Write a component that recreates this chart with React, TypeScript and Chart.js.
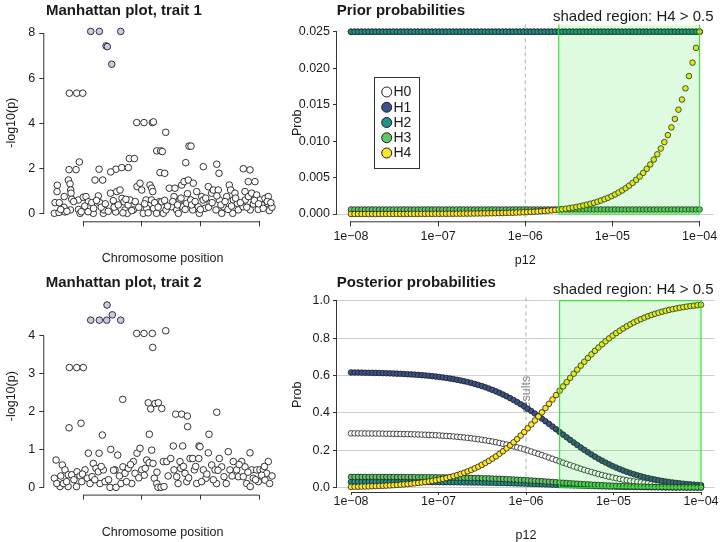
import React, { useEffect, useRef } from "react";
import { Chart, registerables } from "chart.js";

Chart.register(...registerables);

const FONT = "'Liberation Sans', Arial, Helvetica, sans-serif";
Chart.defaults.font.family = FONT;

// ---------------- Manhattan plot data ----------------
const chromTicks = [100, 200, 300, 400];
const trait1YTicks = [0, 2, 4, 6, 8];
const trait2YTicks = [0, 1, 2, 3, 4];

// trait 1: lead SNPs (highlighted)
const t1LeadPos = [113.1, 127.8, 164.2, 139.2, 141.4, 148.9];
const t1LeadLogP = [8.07, 8.07, 8.07, 7.43, 7.4, 6.62];

// trait 1: other SNPs
const t1Pos = [
  76.7, 89.3, 99.5, 191.5, 203.9, 218.1, 219.8, 240.9, 280.6, 284.0,
  225.6, 232.4, 235.1, 178.9, 187.4, 275.0, 93.7, 327.8, 305.0, 76.2,
  88.1, 127.3, 156.2, 165.9, 177.2, 147.2, 231.2, 239.2, 331.7, 75.0,
  77.9, 120.4, 133.5, 56.2, 79.0, 79.6, 373.1, 384.5, 381.6, 393.0,
  51.1, 55.7, 52.3, 59.6, 59.1, 67.6, 67.9, 69.3, 78.6, 80.7,
  92.0, 92.3, 94.9, 100.5, 105.1, 109.0, 110.7, 114.8, 117.5, 108.6,
  126.1, 128.3, 134.6, 135.8, 146.8, 151.6, 157.4, 163.0, 166.4, 155.7,
  169.8, 171.5, 175.5, 176.8, 180.1, 185.7, 191.9, 197.1, 200.0, 202.7,
  207.3, 208.5, 214.1, 217.0, 218.7, 216.6, 220.3, 225.2, 230.0, 234.1,
  236.8, 241.4, 247.0, 251.1, 255.0, 256.7, 259.6, 262.4, 265.2, 268.1,
  269.8, 272.1, 276.7, 279.4, 283.5, 286.9, 287.9, 293.7, 296.4, 298.1,
  302.2, 304.6, 307.8, 313.5, 316.4, 319.2, 322.0, 326.6, 330.5, 332.2,
  336.3, 339.0, 344.8, 349.2, 351.6, 355.0, 356.1, 358.9, 362.9, 364.6,
  376.0, 376.4, 382.0, 387.4, 395.9, 401.5, 410.1, 415.7, 412.9, 372.7,
  390.1, 404.4, 417.4, 384.9, 398.6, 422.0,
  62.0, 72.5, 84.0, 97.0, 103.0, 118.0, 123.0, 131.0, 138.0, 143.0,
  153.0, 160.0, 168.0, 173.0, 183.0, 189.0, 195.0, 205.0, 211.0, 222.0,
  228.0, 239.0, 244.0, 253.0, 261.0, 267.0, 274.0, 278.0, 285.0, 291.0,
  300.0, 309.0, 314.0, 320.0, 328.0, 335.0, 342.0, 347.0, 353.0, 360.0,
  368.0, 379.0, 392.0, 399.0, 407.0, 414.0, 420.0,
];
const t1LogP = [
  5.34, 5.34, 5.34, 4.04, 4.04, 4.04, 4.07, 3.61, 3.0, 3.0,
  2.79, 2.79, 2.76, 2.45, 2.45, 2.27, 2.3, 2.2, 2.09, 1.96,
  1.96, 1.98, 1.98, 2.05, 2.05, 1.86, 1.83, 1.8, 1.8, 1.5,
  1.33, 1.5, 1.5, 1.27, 1.06, 0.92, 2.0, 1.95, 1.43, 1.43,
  0.03, 0.99, 0.5, 0.5, 0.07, 0.3, 0.77, 0.09, 0.18, 0.65,
  0.62, 0.2, 0.03, 0.74, 0.77, 0.54, 0.32, 0.5, 0.03, 0.1,
  0.8, 0.5, 0.03, 0.18, 0.92, 0.59, 0.99, 1.06, 0.69, 0.09,
  0.54, 0.18, 0.03, 0.4, 0.62, 0.18, 1.21, 1.36, 1.06, 0.03,
  0.62, 0.25, 1.28, 1.14, 0.99, 0.62, 0.25, 0.03, 0.54, 0.54,
  0.03, 0.18, 1.14, 0.32, 0.77, 1.14, 0.18, 0.03, 0.62, 1.28,
  0.32, 1.43, 0.47, 1.5, 0.62, 0.18, 1.36, 0.99, 0.32, 0.03,
  0.77, 0.62, 0.25, 1.21, 0.47, 0.92, 1.06, 0.18, 1.06, 0.62,
  0.03, 0.32, 0.77, 1.28, 1.06, 0.03, 0.62, 0.92, 0.47, 0.18,
  0.99, 0.62, 0.77, 0.92, 0.84, 0.62, 0.69, 0.77, 0.47, 0.32,
  0.44, 0.4, 0.15, 0.18, 0.2, 0.3,
  0.2, 0.12, 0.55, 0.1, 0.35, 0.25, 0.6, 0.3, 0.45, 0.12,
  0.3, 0.4, 0.05, 0.65, 0.15, 0.55, 0.3, 0.45, 0.05, 0.5,
  0.3, 0.6, 0.35, 0.55, 0.4, 0.7, 0.2, 0.9, 0.4, 0.55,
  0.2, 0.7, 0.3, 0.5, 0.8, 0.4, 0.55, 0.2, 0.35, 0.7,
  0.5, 0.3, 0.6, 0.45, 0.25, 0.55, 0.5,
];

// trait 2: lead SNPs (highlighted)
const t2LeadPos = [113.1, 127.8, 140.4, 164.2, 149.9, 140.9];
const t2LeadLogP = [4.41, 4.41, 4.41, 4.41, 4.55, 4.81];

// trait 2: other SNPs
const t2Pos = [
  191.5, 203.9, 218.1, 240.9, 218.7, 76.7, 89.3, 100.5, 167.6, 211.2,
  222.7, 228.3, 215.3, 234.1, 257.9, 268.1, 277.7, 278.2, 327.8, 76.2,
  96.6, 132.9, 213.0, 314.6, 109.0, 127.3, 147.2, 159.1, 54.0, 64.7,
  69.3, 75.0, 80.7, 89.8, 94.9, 103.4, 107.3, 111.9, 117.5, 122.1,
  126.1, 129.0, 134.6, 146.0, 154.5, 156.2, 164.7, 168.0, 171.5, 177.2,
  183.0, 185.7, 188.6, 191.9, 197.1, 200.0, 204.3, 208.5, 212.6, 217.0,
  219.2, 221.5, 225.6, 227.8, 232.9, 238.0, 236.8, 242.6, 249.4, 253.8,
  255.0, 259.6, 265.2, 266.4, 269.8, 273.8, 276.7, 282.3, 286.9, 289.6,
  293.7, 297.6, 299.3, 297.2, 305.0, 309.5, 313.5, 319.2, 324.9, 327.4,
  332.2, 336.3, 340.2, 347.5, 350.4, 356.1, 361.8, 364.6, 74.6, 60.8,
  51.1, 55.2, 88.8, 97.8, 66.4, 137.5,
  384.5, 370.4, 376.0, 387.4, 395.9, 401.5, 407.2, 415.7, 412.9, 404.4,
  390.1, 378.9, 384.9, 398.6, 410.1, 373.1, 422.0,
  62.0, 72.0, 84.5, 99.0, 115.5, 120.0, 131.0, 143.5, 152.0, 162.0,
  174.0, 181.0, 195.0, 206.0, 226.0, 245.0, 262.0, 271.0, 280.0, 292.0,
  302.0, 311.0, 322.0, 330.0, 344.0, 354.0, 366.0, 381.0, 394.0, 409.0, 418.0,
];
const t2LogP = [
  4.06, 4.06, 4.06, 4.13, 3.69, 3.16, 3.16, 3.16, 2.32, 2.23,
  2.21, 2.23, 2.07, 2.08, 1.93, 1.93, 1.88, 1.6, 1.98, 1.57,
  1.69, 1.38, 1.4, 1.4, 0.9, 0.9, 1.0, 0.85, 0.72, 0.59,
  0.46, 0.33, 0.33, 0.41, 0.3, 0.46, 0.24, 0.1, 0.63, 0.5,
  0.41, 0.1, 0.46, 0.0, 0.46, 0.0, 0.1, 0.54, 0.37, 0.5,
  0.1, 0.68, 0.37, 0.9, 1.03, 0.46, 0.32, 0.72, 0.65, 0.98,
  0.63, 0.24, 0.1, 0.0, 0.0, 0.02, 0.68, 0.68, 0.76, 1.09,
  0.46, 0.28, 0.68, 0.5, 1.09, 0.37, 0.15, 0.76, 0.76, 0.46,
  0.1, 1.09, 1.07, 0.76, 0.46, 0.24, 0.91, 0.59, 0.46, 0.1,
  0.76, 0.54, 0.28, 0.94, 0.46, 0.68, 0.46, 0.28, 0.02, 0.02,
  0.24, 0.1, 0.02, 0.15, 0.1, 0.15,
  0.91, 0.68, 0.54, 0.46, 0.46, 0.46, 0.46, 0.68, 0.37, 0.32,
  0.24, 0.1, 0.02, 0.15, 0.19, 0.28, 0.3,
  0.3, 0.15, 0.2, 0.35, 0.28, 0.2, 0.55, 0.2, 0.45, 0.3,
  0.15, 0.6, 0.25, 0.5, 0.4, 0.3, 0.1, 0.55, 0.25, 0.55,
  0.15, 0.35, 0.2, 0.45, 0.1, 0.3, 0.6, 0.4, 0.2, 0.55, 0.1,
];

// ---------------- Prior / posterior data ----------------
const p12Ticks = [1e-8, 1e-7, 1e-6, 1e-5, 1e-4];
const p12TickLabels = ["1e\u221208", "1e\u221207", "1e\u221206", "1e\u221205", "1e\u221204"];
const priorYTicks = [0, 0.005, 0.01, 0.015, 0.02, 0.025];
const postYTicks = [0, 0.2, 0.4, 0.6, 0.8, 1.0];
const hypotheses = ["H0", "H1", "H2", "H3", "H4"];
const resultsP12 = 1e-6;

const p12 = [
  1.0e-8, 1.098e-8, 1.205e-8, 1.322e-8, 1.451e-8, 1.592e-8, 1.748e-8, 1.918e-8, 2.105e-8, 2.31e-8,
  2.535e-8, 2.783e-8, 3.054e-8, 3.352e-8, 3.678e-8, 4.037e-8, 4.431e-8, 4.863e-8, 5.337e-8, 5.857e-8,
  6.428e-8, 7.055e-8, 7.743e-8, 8.498e-8, 9.326e-8, 1.024e-7, 1.123e-7, 1.233e-7, 1.353e-7, 1.485e-7,
  1.63e-7, 1.789e-7, 1.963e-7, 2.154e-7, 2.365e-7, 2.595e-7, 2.848e-7, 3.126e-7, 3.431e-7, 3.765e-7,
  4.132e-7, 4.535e-7, 4.977e-7, 5.462e-7, 5.995e-7, 6.579e-7, 7.221e-7, 7.925e-7, 8.698e-7, 9.546e-7,
  1.048e-6, 1.15e-6, 1.262e-6, 1.385e-6, 1.52e-6, 1.668e-6, 1.831e-6, 2.009e-6, 2.205e-6, 2.42e-6,
  2.656e-6, 2.915e-6, 3.199e-6, 3.511e-6, 3.854e-6, 4.229e-6, 4.642e-6, 5.094e-6, 5.591e-6, 6.136e-6,
  6.734e-6, 7.391e-6, 8.111e-6, 8.902e-6, 9.77e-6, 1.072e-5, 1.177e-5, 1.292e-5, 1.418e-5, 1.556e-5,
  1.707e-5, 1.874e-5, 2.057e-5, 2.257e-5, 2.477e-5, 2.719e-5, 2.984e-5, 3.275e-5, 3.594e-5, 3.944e-5,
  4.329e-5, 4.751e-5, 5.214e-5, 5.722e-5, 6.28e-5, 6.893e-5, 7.565e-5, 8.302e-5, 9.112e-5, 1.0e-4,
];

const priorH1 = [
  0.025, 0.025, 0.025, 0.025, 0.025, 0.025, 0.025, 0.025, 0.025, 0.025,
  0.025, 0.025, 0.025, 0.025, 0.025, 0.025, 0.025, 0.025, 0.025, 0.025,
  0.025, 0.025, 0.025, 0.025, 0.025, 0.025, 0.025, 0.025, 0.025, 0.025,
  0.025, 0.025, 0.025, 0.025, 0.025, 0.025, 0.025, 0.025, 0.025, 0.025,
  0.025, 0.025, 0.025, 0.025, 0.025, 0.025, 0.025, 0.025, 0.025, 0.025,
  0.025, 0.025, 0.025, 0.025, 0.025, 0.025, 0.025, 0.025, 0.025, 0.025,
  0.025, 0.025, 0.025, 0.025, 0.025, 0.025, 0.025, 0.025, 0.025, 0.025,
  0.025, 0.025, 0.025, 0.025, 0.025, 0.025, 0.025, 0.025, 0.025, 0.025,
  0.025, 0.025, 0.025, 0.025, 0.025, 0.025, 0.025, 0.025, 0.025, 0.025,
  0.025, 0.025, 0.025, 0.025, 0.025, 0.025, 0.025, 0.025, 0.025, 0.025,
];
const priorH2 = [
  0.025, 0.025, 0.025, 0.025, 0.025, 0.025, 0.025, 0.025, 0.025, 0.025,
  0.025, 0.025, 0.025, 0.025, 0.025, 0.025, 0.025, 0.025, 0.025, 0.025,
  0.025, 0.025, 0.025, 0.025, 0.025, 0.025, 0.025, 0.025, 0.025, 0.025,
  0.025, 0.025, 0.025, 0.025, 0.025, 0.025, 0.025, 0.025, 0.025, 0.025,
  0.025, 0.025, 0.025, 0.025, 0.025, 0.025, 0.025, 0.025, 0.025, 0.025,
  0.025, 0.025, 0.025, 0.025, 0.025, 0.025, 0.025, 0.025, 0.025, 0.025,
  0.025, 0.025, 0.025, 0.025, 0.025, 0.025, 0.025, 0.025, 0.025, 0.025,
  0.025, 0.025, 0.025, 0.025, 0.025, 0.025, 0.025, 0.025, 0.025, 0.025,
  0.025, 0.025, 0.025, 0.025, 0.025, 0.025, 0.025, 0.025, 0.025, 0.025,
  0.025, 0.025, 0.025, 0.025, 0.025, 0.025, 0.025, 0.025, 0.025, 0.025,
];
const priorH3 = [
  0.00062, 0.00062, 0.00062, 0.00062, 0.00062, 0.00062, 0.00062, 0.00062, 0.00062, 0.00062,
  0.00062, 0.00062, 0.00062, 0.00062, 0.00062, 0.00062, 0.00062, 0.00062, 0.00062, 0.00062,
  0.00062, 0.00062, 0.00062, 0.00062, 0.00062, 0.00062, 0.00062, 0.00062, 0.00062, 0.00062,
  0.00062, 0.00062, 0.00062, 0.00062, 0.00062, 0.00062, 0.00062, 0.00062, 0.00062, 0.00062,
  0.00062, 0.00062, 0.00062, 0.00062, 0.00062, 0.00062, 0.00062, 0.00062, 0.00062, 0.00062,
  0.00062, 0.00062, 0.00062, 0.00062, 0.00062, 0.00062, 0.00062, 0.00062, 0.00062, 0.00062,
  0.00062, 0.00062, 0.00062, 0.00062, 0.00062, 0.00062, 0.00062, 0.00062, 0.00062, 0.00062,
  0.00062, 0.00062, 0.00062, 0.00062, 0.00062, 0.00062, 0.00062, 0.00062, 0.00062, 0.00062,
  0.00062, 0.00062, 0.00062, 0.00062, 0.00062, 0.00062, 0.00062, 0.00062, 0.00062, 0.00062,
  0.00062, 0.00062, 0.00062, 0.00062, 0.00062, 0.00062, 0.00062, 0.00062, 0.00062, 0.00062,
];
const priorH4 = [
  2.5e-6, 2.74e-6, 3.01e-6, 3.3e-6, 3.63e-6, 3.98e-6, 4.37e-6, 4.79e-6, 5.26e-6, 5.78e-6,
  6.34e-6, 6.96e-6, 7.63e-6, 8.38e-6, 9.2e-6, 1.01e-5, 1.11e-5, 1.22e-5, 1.33e-5, 1.46e-5,
  1.61e-5, 1.76e-5, 1.94e-5, 2.12e-5, 2.33e-5, 2.56e-5, 2.81e-5, 3.08e-5, 3.38e-5, 3.71e-5,
  4.07e-5, 4.47e-5, 4.91e-5, 5.39e-5, 5.91e-5, 6.49e-5, 7.12e-5, 7.81e-5, 8.58e-5, 9.41e-5,
  1.03e-4, 1.13e-4, 1.24e-4, 1.37e-4, 1.5e-4, 1.64e-4, 1.81e-4, 1.98e-4, 2.17e-4, 2.39e-4,
  2.62e-4, 2.87e-4, 3.15e-4, 3.46e-4, 3.8e-4, 4.17e-4, 4.58e-4, 5.02e-4, 5.51e-4, 6.05e-4,
  6.64e-4, 7.29e-4, 8.0e-4, 8.78e-4, 9.63e-4, 1.057e-3, 1.16e-3, 1.274e-3, 1.398e-3, 1.534e-3,
  1.684e-3, 1.848e-3, 2.028e-3, 2.226e-3, 2.443e-3, 2.681e-3, 2.942e-3, 3.229e-3, 3.544e-3, 3.889e-3,
  4.269e-3, 4.685e-3, 5.141e-3, 5.643e-3, 6.193e-3, 6.797e-3, 7.459e-3, 8.187e-3, 8.985e-3, 9.861e-3,
  1.0822e-2, 1.1877e-2, 1.3035e-2, 1.4306e-2, 1.5701e-2, 1.7232e-2, 1.8912e-2, 2.0756e-2, 2.2779e-2, 2.5e-2,
];

const postH0 = [
  0.2907, 0.2906, 0.2904, 0.2903, 0.2901, 0.2899, 0.2898, 0.2895, 0.2893, 0.289,
  0.2887, 0.2884, 0.2881, 0.2877, 0.2873, 0.2868, 0.2864, 0.2858, 0.2852, 0.2846,
  0.2839, 0.2831, 0.2823, 0.2814, 0.2804, 0.2793, 0.2781, 0.2768, 0.2754, 0.2739,
  0.2723, 0.2705, 0.2686, 0.2665, 0.2642, 0.2618, 0.2592, 0.2564, 0.2534, 0.2501,
  0.2467, 0.243, 0.2391, 0.235, 0.2306, 0.2259, 0.2211, 0.2159, 0.2106, 0.205,
  0.1992, 0.1932, 0.1871, 0.1807, 0.1743, 0.1677, 0.161, 0.1543, 0.1475, 0.1407,
  0.1339, 0.1272, 0.1206, 0.114, 0.1076, 0.1014, 0.0953, 0.0895, 0.0838, 0.0783,
  0.0731, 0.0682, 0.0634, 0.0589, 0.0547, 0.0506, 0.0469, 0.0433, 0.04, 0.0369,
  0.034, 0.0313, 0.0288, 0.0265, 0.0243, 0.0223, 0.0205, 0.0188, 0.0172, 0.0158,
  0.0144, 0.0132, 0.0121, 0.011, 0.0101, 0.0092, 0.0084, 0.0077, 0.007, 0.0064,
];
const postH1 = [
  0.6163, 0.616, 0.6157, 0.6154, 0.615, 0.6146, 0.6142, 0.6138, 0.6133, 0.6127,
  0.6121, 0.6114, 0.6107, 0.6099, 0.609, 0.6081, 0.607, 0.6059, 0.6047, 0.6033,
  0.6018, 0.6002, 0.5984, 0.5965, 0.5944, 0.5921, 0.5896, 0.5869, 0.5839, 0.5807,
  0.5772, 0.5734, 0.5693, 0.5649, 0.5601, 0.555, 0.5495, 0.5435, 0.5371, 0.5303,
  0.523, 0.5152, 0.5069, 0.4981, 0.4888, 0.479, 0.4686, 0.4578, 0.4464, 0.4346,
  0.4224, 0.4097, 0.3966, 0.3832, 0.3694, 0.3555, 0.3413, 0.327, 0.3126, 0.2982,
  0.2839, 0.2696, 0.2556, 0.2417, 0.2282, 0.215, 0.2021, 0.1896, 0.1776, 0.1661,
  0.155, 0.1445, 0.1344, 0.1249, 0.1159, 0.1074, 0.0994, 0.0918, 0.0848, 0.0782,
  0.0721, 0.0664, 0.061, 0.0561, 0.0515, 0.0473, 0.0434, 0.0398, 0.0365, 0.0334,
  0.0306, 0.028, 0.0256, 0.0234, 0.0214, 0.0196, 0.0179, 0.0163, 0.0149, 0.0136,
];
const postH2 = [
  0.0309, 0.0308, 0.0308, 0.0308, 0.0308, 0.0308, 0.0308, 0.0307, 0.0307, 0.0307,
  0.0307, 0.0306, 0.0306, 0.0305, 0.0305, 0.0305, 0.0304, 0.0303, 0.0303, 0.0302,
  0.0301, 0.0301, 0.03, 0.0299, 0.0298, 0.0297, 0.0295, 0.0294, 0.0292, 0.0291,
  0.0289, 0.0287, 0.0285, 0.0283, 0.0281, 0.0278, 0.0275, 0.0272, 0.0269, 0.0266,
  0.0262, 0.0258, 0.0254, 0.0249, 0.0245, 0.024, 0.0235, 0.0229, 0.0224, 0.0218,
  0.0212, 0.0205, 0.0199, 0.0192, 0.0185, 0.0178, 0.0171, 0.0164, 0.0157, 0.0149,
  0.0142, 0.0135, 0.0128, 0.0121, 0.0114, 0.0108, 0.0101, 0.0095, 0.0089, 0.0083,
  0.0078, 0.0072, 0.0067, 0.0063, 0.0058, 0.0054, 0.005, 0.0046, 0.0042, 0.0039,
  0.0036, 0.0033, 0.0031, 0.0028, 0.0026, 0.0024, 0.0022, 0.002, 0.0018, 0.0017,
  0.0015, 0.0014, 0.0013, 0.0012, 0.0011, 0.001, 0.0009, 0.0008, 0.0007, 0.0007,
];
const postH3 = [
  0.0577, 0.0577, 0.0577, 0.0577, 0.0576, 0.0576, 0.0576, 0.0575, 0.0575, 0.0574,
  0.0574, 0.0573, 0.0572, 0.0571, 0.0571, 0.057, 0.0569, 0.0568, 0.0567, 0.0565,
  0.0564, 0.0562, 0.0561, 0.0559, 0.0557, 0.0555, 0.0552, 0.055, 0.0547, 0.0544,
  0.0541, 0.0537, 0.0533, 0.0529, 0.0525, 0.052, 0.0515, 0.0509, 0.0503, 0.0497,
  0.049, 0.0483, 0.0475, 0.0467, 0.0458, 0.0449, 0.0439, 0.0429, 0.0418, 0.0407,
  0.0396, 0.0384, 0.0372, 0.0359, 0.0346, 0.0333, 0.032, 0.0306, 0.0293, 0.0279,
  0.0266, 0.0253, 0.0239, 0.0227, 0.0214, 0.0201, 0.0189, 0.0178, 0.0166, 0.0156,
  0.0145, 0.0135, 0.0126, 0.0117, 0.0109, 0.0101, 0.0093, 0.0086, 0.0079, 0.0073,
  0.0068, 0.0062, 0.0057, 0.0053, 0.0048, 0.0044, 0.0041, 0.0037, 0.0034, 0.0031,
  0.0029, 0.0026, 0.0024, 0.0022, 0.002, 0.0018, 0.0017, 0.0015, 0.0014, 0.0013,
];
const postH4 = [
  0.0044, 0.0049, 0.0053, 0.0058, 0.0064, 0.007, 0.0077, 0.0085, 0.0093, 0.0102,
  0.0111, 0.0122, 0.0134, 0.0147, 0.0161, 0.0176, 0.0193, 0.0212, 0.0232, 0.0254,
  0.0278, 0.0304, 0.0333, 0.0364, 0.0398, 0.0435, 0.0476, 0.0519, 0.0567, 0.0619,
  0.0675, 0.0736, 0.0802, 0.0874, 0.0951, 0.1034, 0.1124, 0.122, 0.1323, 0.1433,
  0.1552, 0.1677, 0.1811, 0.1954, 0.2104, 0.2263, 0.243, 0.2605, 0.2788, 0.2979,
  0.3177, 0.3382, 0.3593, 0.381, 0.4032, 0.4257, 0.4486, 0.4717, 0.495, 0.5182,
  0.5414, 0.5644, 0.5871, 0.6095, 0.6314, 0.6527, 0.6735, 0.6936, 0.713, 0.7317,
  0.7496, 0.7666, 0.7828, 0.7983, 0.8128, 0.8266, 0.8395, 0.8516, 0.863, 0.8737,
  0.8836, 0.8928, 0.9014, 0.9094, 0.9167, 0.9236, 0.9299, 0.9357, 0.9411, 0.946,
  0.9506, 0.9548, 0.9586, 0.9622, 0.9654, 0.9684, 0.9711, 0.9736, 0.9759, 0.978,
];

// ---------------- styles ----------------
const HCOL = ["#FFFFFF", "#3B528B", "#21908C", "#5DC863", "#FDE725"];
const LEAD_COL = "#C9C9EC";
const EDGE = "#1e1e1e";
const AXIS = "#333333";
const TEXT = "#1a1a1a";
const GRID = "#cfcfcf";

const shadeStart = p12[postH4.findIndex((v) => v > 0.5)];
const shadeEnd = p12[p12.length - 1];

const pts = (xs: number[], ys: number[]) => xs.map((x, i) => ({ x, y: ys[i] }));

const decorPlugin: any = {
  id: "decor",
  beforeDatasetsDraw(chart: any, _a: any, o: any) {
    const { ctx, chartArea: a, scales } = chart;
    if (o.vline !== undefined) {
      const x = scales.x.getPixelForValue(o.vline);
      ctx.save();
      ctx.strokeStyle = "#b0b0b0";
      ctx.lineWidth = 1;
      ctx.setLineDash([4, 3]);
      ctx.beginPath();
      ctx.moveTo(x, a.top);
      ctx.lineTo(x, a.bottom);
      ctx.stroke();
      ctx.restore();
      if (o.vText) {
        ctx.save();
        ctx.translate(x + 1, scales.y.getPixelForValue(o.vTextAt));
        ctx.rotate(-Math.PI / 2);
        ctx.font = `12.5px ${FONT}`;
        ctx.fillStyle = "#8a8a8a";
        ctx.textAlign = "center";
        ctx.textBaseline = "middle";
        ctx.fillText(o.vText, 0, 0);
        ctx.restore();
      }
    }
  },
  afterDatasetsDraw(chart: any, _a: any, o: any) {
    const { ctx, chartArea: a, scales } = chart;
    if (o.shade) {
      const x0 = scales.x.getPixelForValue(o.shade[0]);
      const x1 = scales.x.getPixelForValue(o.shade[1]);
      const y0 = scales.y.getPixelForValue(0);
      const y1 = scales.y.getPixelForValue(1);
      ctx.save();
      ctx.beginPath();
      ctx.rect(a.left, a.top, a.right - a.left, a.bottom - a.top);
      ctx.clip();
      ctx.fillStyle = "rgba(0, 230, 0, 0.12)";
      ctx.fillRect(x0, y1, x1 - x0, y0 - y1);
      ctx.strokeStyle = "rgba(40, 225, 40, 0.9)";
      ctx.lineWidth = 1.2;
      ctx.strokeRect(x0, y1, x1 - x0, y0 - y1);
      ctx.restore();
    }
    if (o.legend) {
      const L = o.legend;
      ctx.save();
      ctx.fillStyle = "#ffffff";
      ctx.fillRect(L.x, L.y, L.w, L.h);
      ctx.strokeStyle = "#333333";
      ctx.lineWidth = 1;
      ctx.strokeRect(L.x + 0.5, L.y + 0.5, L.w, L.h);
      ctx.font = `14px ${FONT}`;
      ctx.textBaseline = "middle";
      ctx.textAlign = "left";
      hypotheses.forEach((h, i) => {
        const cy = L.y + L.first + i * L.step;
        ctx.beginPath();
        ctx.arc(L.x + L.cx, cy, 5, 0, Math.PI * 2);
        ctx.fillStyle = HCOL[i];
        ctx.fill();
        ctx.strokeStyle = EDGE;
        ctx.lineWidth = 1;
        ctx.stroke();
        ctx.fillStyle = TEXT;
        ctx.fillText(h, L.x + L.tx, cy + 0.5);
      });
      ctx.restore();
    }
  },
  afterDraw(chart: any, _a: any, o: any) {
    const { ctx, chartArea: a, scales } = chart;
    ctx.save();
    ctx.strokeStyle = AXIS;
    ctx.lineWidth = 1;
    if (o.yLine) {
      const ya = scales.y.getPixelForValue(o.yLine[0]);
      const yb = scales.y.getPixelForValue(o.yLine[1]);
      ctx.beginPath();
      ctx.moveTo(a.left - 0.5, ya);
      ctx.lineTo(a.left - 0.5, yb);
      ctx.stroke();
    }
    if (o.xLine) {
      const xa = scales.x.getPixelForValue(o.xLine[0]);
      const xb = scales.x.getPixelForValue(o.xLine[1]);
      ctx.beginPath();
      ctx.moveTo(xa, a.bottom + 0.5);
      ctx.lineTo(xb, a.bottom + 0.5);
      ctx.stroke();
    }
    if (o.title) {
      ctx.font = `bold 15px ${FONT}`;
      ctx.fillStyle = TEXT;
      ctx.textAlign = "left";
      ctx.textBaseline = "alphabetic";
      ctx.fillText(o.title, o.titleX, o.titleY);
    }
    if (o.note) {
      ctx.font = `15px ${FONT}`;
      ctx.fillStyle = TEXT;
      ctx.textAlign = "right";
      ctx.textBaseline = "alphabetic";
      ctx.fillText(o.note, o.noteX, o.noteY);
    }
    ctx.restore();
  },
};

function yScale(min: number, max: number, ticks: number[], width: number, fmt: (v: number) => string, title: string, titlePad: number, tickPad: number, tickLen: number, gridAll: boolean, gridZero: boolean) {
  return {
    type: "linear",
    min,
    max,
    afterBuildTicks: (s: any) => {
      s.ticks = ticks.map((v) => ({ value: v }));
    },
    afterFit: (s: any) => {
      s.width = width;
    },
    ticks: { color: TEXT, font: { size: 12.5 }, padding: tickPad, callback: (v: any) => fmt(Number(v)) },
    grid: {
      display: true,
      drawOnChartArea: gridAll || gridZero,
      drawTicks: true,
      tickLength: tickLen,
      tickColor: AXIS,
      lineWidth: 1,
      color: (c: any) => (gridAll || (gridZero && c.tick && c.tick.value === 0) ? GRID : "rgba(0,0,0,0)"),
    },
    border: { display: false },
    title: { display: true, text: title, color: TEXT, font: { size: 12.5, lineHeight: 1 }, padding: { top: titlePad, bottom: 0 } },
  };
}

function xChromScale(height: number, titlePad: number) {
  return {
    type: "linear",
    min: 34,
    max: 437,
    afterBuildTicks: (s: any) => {
      s.ticks = chromTicks.map((v) => ({ value: v }));
    },
    afterFit: (s: any) => {
      s.height = height;
    },
    ticks: { autoSkip: false, maxRotation: 0, callback: () => "" },
    grid: { display: true, drawOnChartArea: false, drawTicks: true, tickLength: 5, tickColor: AXIS, color: AXIS },
    border: { display: false },
    title: { display: true, text: "Chromosome position", color: TEXT, font: { size: 12.5, lineHeight: 1 }, padding: { top: 0, bottom: titlePad } },
  };
}

function xP12Scale(height: number, tickLen: number, tickPad: number, titlePad: number) {
  return {
    type: "logarithmic",
    min: 6.918e-9,
    max: 1.4454e-4,
    afterBuildTicks: (s: any) => {
      s.ticks = p12Ticks.map((v) => ({ value: v }));
    },
    afterFit: (s: any) => {
      s.height = height;
    },
    ticks: { autoSkip: false, maxRotation: 0, color: TEXT, font: { size: 12.5 }, padding: tickPad, callback: (_v: any, i: number) => p12TickLabels[i] },
    grid: { display: true, drawOnChartArea: false, drawTicks: true, tickLength: tickLen, tickColor: AXIS, color: AXIS },
    border: { display: false },
    title: { display: true, text: "p12", color: TEXT, font: { size: 12.5, lineHeight: 1 }, padding: { top: 0, bottom: titlePad } },
  };
}

function manhattanConfig(pos: number[], val: number[], leadPos: number[], leadVal: number[], yMin: number, yMax: number, yTicks: number[], top: number, xHeight: number, xTitlePad: number, title: string, titleX: number, titleY: number) {
  return {
    type: "scatter",
    data: {
      datasets: [
        { data: pts(leadPos, leadVal), backgroundColor: LEAD_COL, borderColor: EDGE, borderWidth: 0.9, pointRadius: 3.3, order: 0 },
        { data: pts(pos, val), backgroundColor: "#FFFFFF", borderColor: EDGE, borderWidth: 0.9, pointRadius: 3.3, order: 1 },
      ],
    },
    options: {
      animation: false,
      responsive: false,
      devicePixelRatio: 1,
      events: [],
      layout: { padding: { left: 0, top, right: 9.2, bottom: 0 } },
      plugins: {
        legend: { display: false },
        tooltip: { enabled: false },
        decor: { title, titleX, titleY, yLine: [yTicks[0], yTicks[yTicks.length - 1]], xLine: [chromTicks[0], chromTicks[chromTicks.length - 1]] },
      },
      scales: {
        x: xChromScale(xHeight, xTitlePad),
        y: yScale(yMin, yMax, yTicks, 44.3, (v) => String(v), "-log10(p)", 5.75, 4, 5, false, false),
      },
    },
    plugins: [decorPlugin],
  };
}

function probConfig(series: number[][], yMin: number, yMax: number, yTicks: number[], fmt: (v: number) => string, top: number, xHeight: number, xTickLen: number, xTickPad: number, xTitlePad: number, title: string, titleY: number, noteY: number, gridAll: boolean, extra: any) {
  const datasets = series
    .map((s, i) => ({
      data: pts(p12, s),
      backgroundColor: HCOL[i],
      borderColor: EDGE,
      borderWidth: 0.8,
      pointRadius: 2.8,
      order: 4 - i,
    }))
    .filter((d) => d.data.length > 0);
  return {
    type: "scatter",
    data: { datasets },
    options: {
      animation: false,
      responsive: false,
      devicePixelRatio: 1,
      events: [],
      layout: { padding: { left: 0, top, right: 5, bottom: 0 } },
      plugins: {
        legend: { display: false },
        tooltip: { enabled: false },
        decor: {
          title,
          titleX: 46.7,
          titleY,
          note: "shaded region: H4 > 0.5",
          noteX: 423.5,
          noteY,
          yLine: [yTicks[0], yTicks[yTicks.length - 1]],
          xLine: [p12Ticks[0], p12Ticks[p12Ticks.length - 1]],
          vline: resultsP12,
          shade: [shadeStart, shadeEnd],
          ...extra,
        },
      },
      scales: {
        x: xP12Scale(xHeight, xTickLen, xTickPad, xTitlePad),
        y: yScale(yMin, yMax, yTicks, 47, fmt, "Prob", 1.75, 3, 4, gridAll, true),
      },
    },
    plugins: [decorPlugin],
  };
}

function Panel({ left, top, width, height, config }: any) {
  const ref = useRef<HTMLCanvasElement | null>(null);
  useEffect(() => {
    if (!ref.current) return;
    const chart = new Chart(ref.current, config());
    return () => chart.destroy();
  }, []);
  return (
    <div style={{ position: "absolute", left, top, width, height }}>
      <canvas ref={ref} width={width} height={height} style={{ display: "block", width, height }} />
    </div>
  );
}

export default function App() {
  useEffect(() => {
    document.body.style.margin = "0";
  }, []);
  return (
    <div style={{ position: "absolute", left: 0, top: 0, width: 720, height: 542, background: "#ffffff", overflow: "hidden" }}>
      <Panel
        left={0}
        top={0}
        width={290}
        height={271}
        config={() =>
          manhattanConfig(t1Pos, t1LogP, t1LeadPos, t1LeadLogP, -0.323, 8.39, trait1YTicks, 24.2, 49.7, 6.25, "Manhattan plot, trait 1", 46, 15)
        }
      />
      <Panel
        left={290}
        top={0}
        width={430}
        height={271}
        config={() =>
          probConfig([[], priorH1, priorH2, priorH3, priorH4], -0.001, 0.026, priorYTicks, (v) => v.toFixed(3), 24.4, 49.7, 5, 2.7, 3.75, "Prior probabilities", 14.5, 20.7, false, {
            legend: { x: 84, y: 77, w: 45, h: 91, cx: 12.7, tx: 19.5, first: 15, step: 15.25 },
          })
        }
      />
      <Panel
        left={0}
        top={271}
        width={290}
        height={271}
        config={() =>
          manhattanConfig(t2Pos, t2LogP, t2LeadPos, t2LeadLogP, -0.192, 5.0, trait2YTicks, 26.8, 47.4, 2.75, "Manhattan plot, trait 2", 45.7, 16.3)
        }
      />
      <Panel
        left={290}
        top={271}
        width={430}
        height={271}
        config={() =>
          probConfig([postH0, postH1, postH2, postH3, postH4], -0.023, 1.017, postYTicks, (v) => v.toFixed(1), 26.5, 50, 3, -0.5, 0, "Posterior probabilities", 16.3, 23.3, true, {
            vText: "results",
            vTextAt: 0.5,
          })
        }
      />
    </div>
  );
}
